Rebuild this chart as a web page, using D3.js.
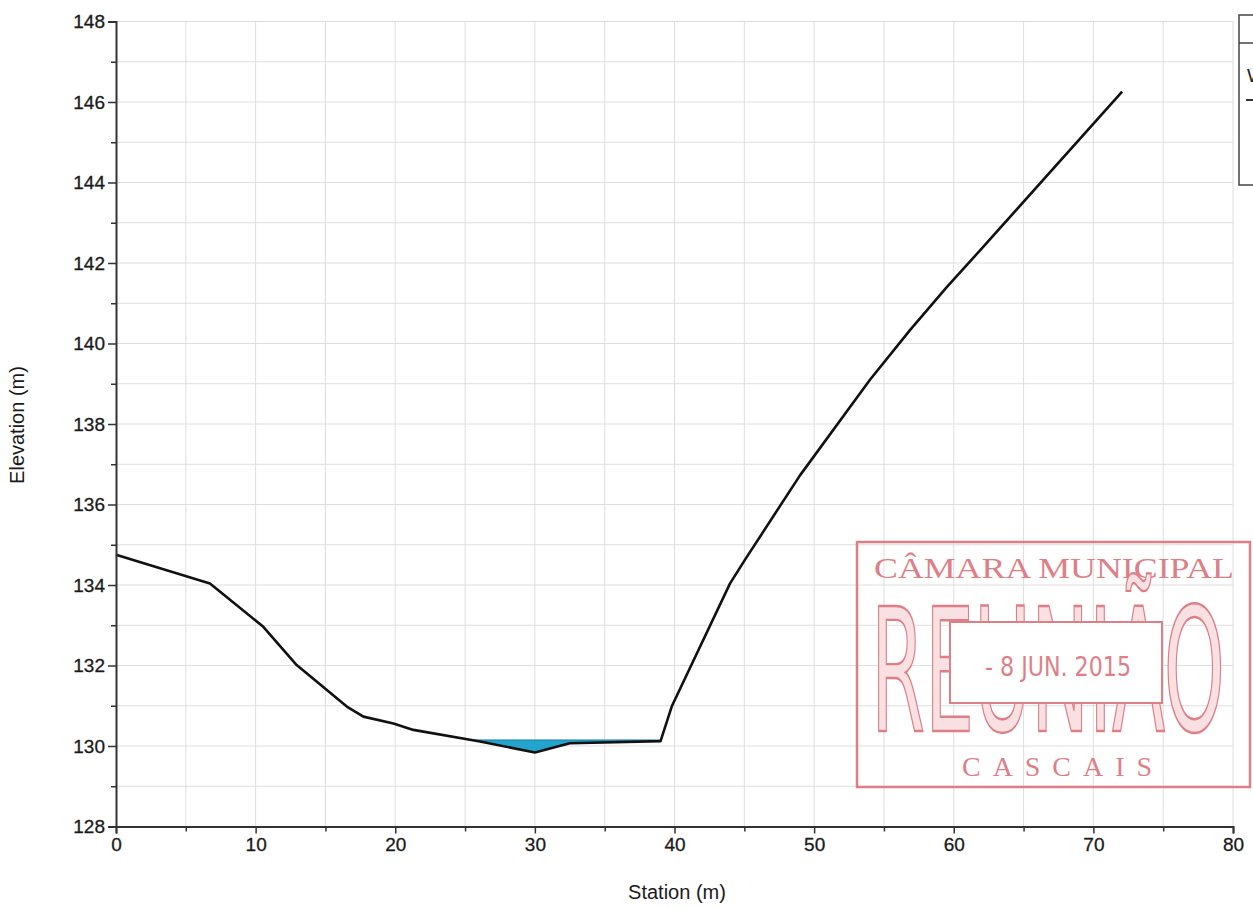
<!DOCTYPE html>
<html>
<head>
<meta charset="utf-8">
<script src="https://cdn.jsdelivr.net/npm/d3@7"></script>
<style>
  html, body { margin: 0; padding: 0; background: #ffffff; }
  svg { display: block; }
</style>
</head>
<body>
<svg id="chart" width="1253" height="908"></svg>
<script>
// ---- data ----
const stations  = [0, 6.73, 10.55, 12.94, 16.53, 17.72, 19.87, 21.3, 26.07, 30.0, 32.5, 39.0, 39.8, 43.98, 45.18, 49.0, 54.0, 56.88, 59.5, 61.9, 72.06];
const elevations = [134.75, 134.04, 132.96, 132.01, 130.98, 130.73, 130.56, 130.40, 130.11, 129.84, 130.07, 130.12, 130.98, 134.04, 134.70, 136.73, 139.1, 140.34, 141.4, 142.32, 146.26];
const waterSurface = 130.15;
const xTicks = [0, 10, 20, 30, 40, 50, 60, 70, 80];
const yTicks = [128, 130, 132, 134, 136, 138, 140, 142, 144, 146, 148];
const xTitle = "Station (m)";
const yTitle = "Elevation (m)";
const legendLabels = ["WS PF 1"];
const stampTop = "CÂMARA MUNICIPAL";
const stampBig = "REUNIÃO";
const stampDate = "- 8 JUN. 2015";
const stampBottom = "CASCAIS";

// ---- layout ----
const svg = d3.select("#chart");
const x = d3.scaleLinear().domain([0, 80]).range([116, 1233]);
const y = d3.scaleLinear().domain([128, 148]).range([826.5, 21.5]);
const font = "'Liberation Sans', Arial, sans-serif";

// grid
const grid = svg.append("g").attr("stroke", "#dedede").attr("stroke-width", 1);
grid.selectAll("line.v").data(d3.range(5, 81, 5)).join("line")
  .attr("x1", d => x(d)).attr("x2", d => x(d))
  .attr("y1", y(148)).attr("y2", y(128));
grid.selectAll("line.h").data(d3.range(129, 149, 1)).join("line")
  .attr("x1", x(0)).attr("x2", x(80))
  .attr("y1", d => y(d)).attr("y2", d => y(d));

// water polygon
const ground = stations.map((s, i) => ({s, e: elevations[i]}));
const water = [];
for (let i = 0; i < ground.length - 1; i++) {
  const a = ground[i], b = ground[i + 1];
  const aIn = a.e < waterSurface, bIn = b.e < waterSurface;
  if (aIn) water.push(a);
  if (aIn !== bIn) {
    const t = (waterSurface - a.e) / (b.e - a.e);
    water.push({s: a.s + t * (b.s - a.s), e: waterSurface});
  }
}
if (ground[ground.length - 1].e < waterSurface) water.push(ground[ground.length - 1]);

const area = d3.area().x(d => x(d.s)).y0(y(waterSurface)).y1(d => y(d.e));
svg.append("path").datum(water).attr("d", area)
  .attr("fill", "#22a4cc").attr("stroke", "#1b7fa6").attr("stroke-width", 1);

// ground line
const line = d3.line().x(d => x(d.s)).y(d => y(d.e));
svg.append("path").datum(ground).attr("d", line)
  .attr("fill", "none").attr("stroke", "#111").attr("stroke-width", 2.6)
  .attr("stroke-linejoin", "round");

// axes
const yAxis = d3.axisLeft(y).tickValues(yTicks).tickSize(8).tickFormat(d3.format("d"));
const gy = svg.append("g").attr("transform", `translate(${x(0)},0)`).call(yAxis);
svg.append("g").attr("transform", `translate(${x(0)},0)`)
  .call(d3.axisLeft(y).tickValues(d3.range(129, 148, 2)).tickSize(5).tickFormat(""))
  .select(".domain").remove();

const xAxis = d3.axisBottom(x).tickValues(xTicks).tickSize(7).tickFormat(d3.format("d"));
const gx = svg.append("g").attr("transform", `translate(0,${y(128)})`).call(xAxis);
svg.append("g").attr("transform", `translate(0,${y(128)})`)
  .call(d3.axisBottom(x).tickValues(d3.range(5, 80, 10)).tickSize(5).tickFormat(""))
  .select(".domain").remove();

svg.selectAll(".domain").attr("stroke", "#333").attr("stroke-width", 2);
svg.selectAll(".tick line").attr("stroke", "#333").attr("stroke-width", 1.5);
gy.selectAll(".tick text").attr("font-family", font).attr("font-size", 19).attr("fill", "#1a1a1a")
  .attr("stroke", "#1a1a1a").attr("stroke-width", 0.3).attr("x", -11);
gx.selectAll(".tick text").attr("font-family", font).attr("font-size", 19).attr("fill", "#1a1a1a")
  .attr("stroke", "#1a1a1a").attr("stroke-width", 0.3).attr("y", 11);

// titles
svg.append("text").attr("x", 677).attr("y", 899).attr("text-anchor", "middle")
  .attr("font-family", font).attr("font-size", 20).attr("fill", "#1a1a1a").text(xTitle);
svg.append("text").attr("transform", "translate(24,425) rotate(-90)").attr("text-anchor", "middle")
  .attr("font-family", font).attr("font-size", 20).attr("fill", "#1a1a1a").text(yTitle);

// legend (cut at right edge, as in the source)
const lg = svg.append("g");
lg.append("rect").attr("x", 1239).attr("y", 15).attr("width", 60).attr("height", 170)
  .attr("fill", "#fff").attr("stroke", "#444").attr("stroke-width", 1.5);
lg.append("line").attr("x1", 1239).attr("x2", 1299).attr("y1", 43).attr("y2", 43)
  .attr("stroke", "#444").attr("stroke-width", 1.5);
lg.selectAll("text.lab").data(legendLabels).join("text")
  .attr("x", 1247).attr("y", (d, i) => 82 + i * 40)
  .attr("font-family", font).attr("font-size", 19).attr("fill", "#222").text(d => d);
lg.append("line").attr("x1", 1246).attr("x2", 1280).attr("y1", 100).attr("y2", 100)
  .attr("stroke", "#333").attr("stroke-width", 2);

// stamp
const red = "#de7f88";
const st = svg.append("g");
st.append("rect").attr("x", 857).attr("y", 542).attr("width", 393).attr("height", 245)
  .attr("fill", "none").attr("stroke", red).attr("stroke-width", 2.5);
st.append("text").attr("x", 874).attr("y", 578).attr("textLength", 360).attr("lengthAdjust", "spacingAndGlyphs")
  .attr("font-family", "'Liberation Serif', 'Times New Roman', serif").attr("font-size", 29)
  .attr("fill", red).text(stampTop);
st.append("text").attr("x", 871).attr("y", 731).attr("textLength", 354).attr("lengthAdjust", "spacingAndGlyphs")
  .attr("font-family", "'DejaVu Sans', sans-serif").attr("font-size", 172)
  .attr("fill", "#f9e0e2").attr("stroke", red).attr("stroke-width", 2.4).text(stampBig);
st.append("rect").attr("x", 950).attr("y", 622).attr("width", 212).attr("height", 81)
  .attr("fill", "#ffffff").attr("stroke", red).attr("stroke-width", 2);
st.append("text").attr("x", 985).attr("y", 676).attr("textLength", 146).attr("lengthAdjust", "spacingAndGlyphs")
  .attr("font-family", "'DejaVu Sans Condensed', 'DejaVu Sans', sans-serif").attr("font-size", 26)
  .attr("fill", red).text(stampDate);
st.append("text").attr("x", 962).attr("y", 776).attr("textLength", 190).attr("lengthAdjust", "spacing")
  .attr("font-family", "'Liberation Serif', 'Times New Roman', serif").attr("font-size", 28)
  .attr("fill", red).text(stampBottom);
</script>
</body>
</html>
